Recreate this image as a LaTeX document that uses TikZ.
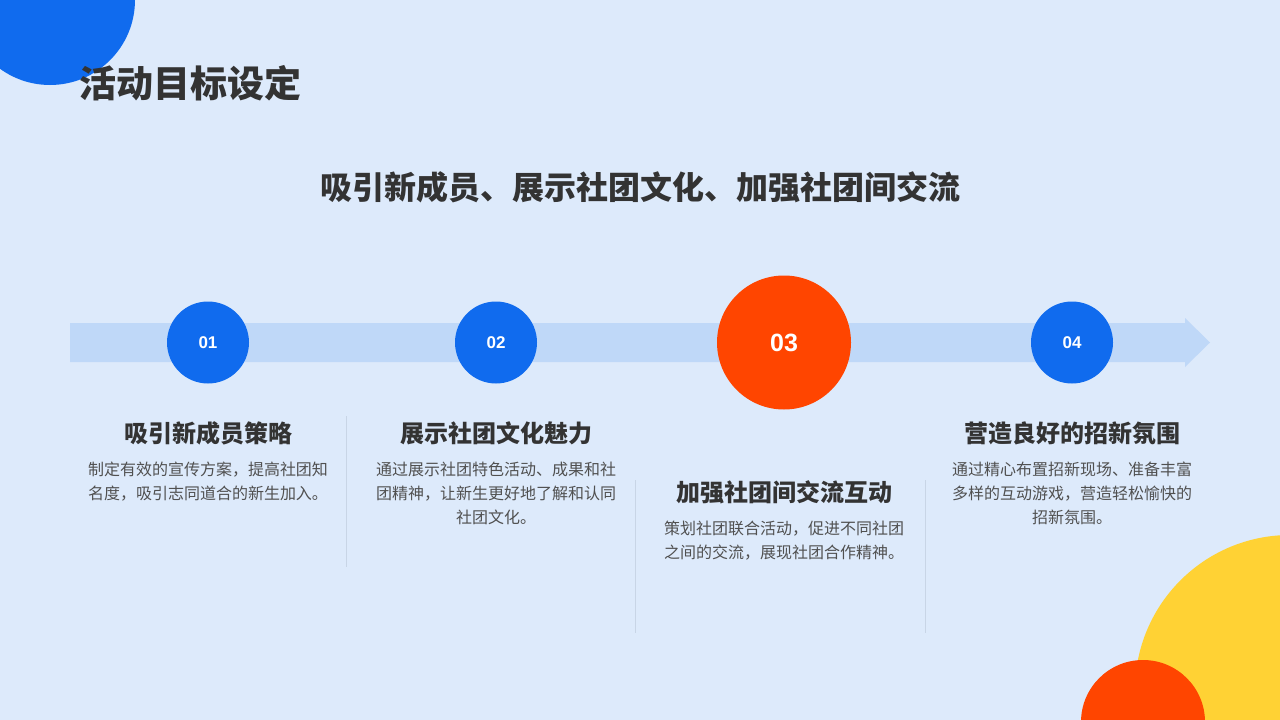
\documentclass[tikz,border=0pt]{standalone}
\usepackage{fontspec}
\setmainfont{Noto Sans CJK SC}
\newfontfamily\numfont{Liberation Sans}
\usepackage{xcolor}
\definecolor{BgBlue}{RGB}{221,234,251}
\definecolor{MainBlue}{RGB}{16,107,238}
\definecolor{BandBlue}{RGB}{191,216,248}
\definecolor{HotOrange}{RGB}{255,69,0}
\definecolor{SunYellow}{RGB}{255,210,52}
\definecolor{TextDark}{RGB}{51,51,51}
\definecolor{TextGray}{RGB}{80,80,80}
\definecolor{LineGray}{RGB}{200,213,230}
\usetikzlibrary{positioning}

\tikzset{
  stepdot/.style={circle, fill=MainBlue, minimum size=82pt, inner sep=0pt, text=white,
    font=\numfont\bfseries\fontsize{17}{17}\selectfont},
  stephead/.style={text=TextDark, inner sep=0pt, font=\bfseries\fontsize{24}{28}\selectfont},
  stepbody/.style={text=TextGray, align=center, inner sep=0pt, anchor=north,
    font=\fontsize{16}{24}\selectfont},
  divider/.style={draw=LineGray, line width=1pt},
}

\begin{document}
\begin{tikzpicture}[x=1pt, y=-1pt]
  % Fondo / Background
  \useasboundingbox (0,0) rectangle (1280,720);
  \fill[BgBlue] (0,0) rectangle (1280,720);
  \clip (0,0) rectangle (1280,720);
  % Circulos decorativos / Decorative circles
  \fill[MainBlue] (50,0) circle[radius=85pt];
  \fill[SunYellow] (1290,690) circle[radius=155pt];
  \fill[HotOrange] (1143,722) circle[radius=62pt];
  % Titulos / Titles
  \node[anchor=west, inner sep=0pt, text=TextDark, font=\bfseries\fontsize{37}{40}\selectfont] (title) at (79,83) {活动目标设定};
  \node[inner sep=0pt, text=TextDark, font=\bfseries\fontsize{32}{36}\selectfont] (goal) at (640,187) {吸引新成员、展示社团文化、加强社团间交流};
  % Flecha / Timeline band
  \fill[BandBlue] (70,323) -- (1185,323) -- (1185,318) -- (1210,342.5) -- (1185,367) -- (1185,362) -- (70,362) -- cycle;
  % Pasos / Steps
  \node[stepdot] (c1) at (208,342.5) {01};
  \node[stepdot] (c2) at (496,342.5) {02};
  \node[stepdot, fill=HotOrange, minimum size=134pt, font=\numfont\bfseries\fontsize{25}{25}\selectfont] (c3) at (784,342.5) {03};
  \node[stepdot] (c4) at (1072,342.5) {04};
  % Encabezados / Headings
  \node[stephead] (h1) at (208,433) {吸引新成员策略};
  \node[stephead] (h2) at (496,433) {展示社团文化魅力};
  \node[stephead] (h3) at (784,492) {加强社团间交流互动};
  \node[stephead] (h4) at (1072,433) {营造良好的招新氛围};
  % Textos / Body texts
  \node[stepbody] (b1) at (208,462) {制定有效的宣传方案，提高社团知\\名度，吸引志同道合的新生加入。};
  \node[stepbody] (b2) at (496,462) {通过展示社团特色活动、成果和社\\团精神，让新生更好地了解和认同\\社团文化。};
  \node[stepbody] (b3) at (784,521) {策划社团联合活动，促进不同社团\\之间的交流，展现社团合作精神。};
  \node[stepbody] (b4) at (1072,462) {通过精心布置招新现场、准备丰富\\多样的互动游戏，营造轻松愉快的\\招新氛围。};
  % Separadores / Dividers
  \draw[divider] (346,416) -- (346,567);
  \draw[divider] (635,480) -- (635,633);
  \draw[divider] (925,480) -- (925,633);
\end{tikzpicture}
\end{document}
